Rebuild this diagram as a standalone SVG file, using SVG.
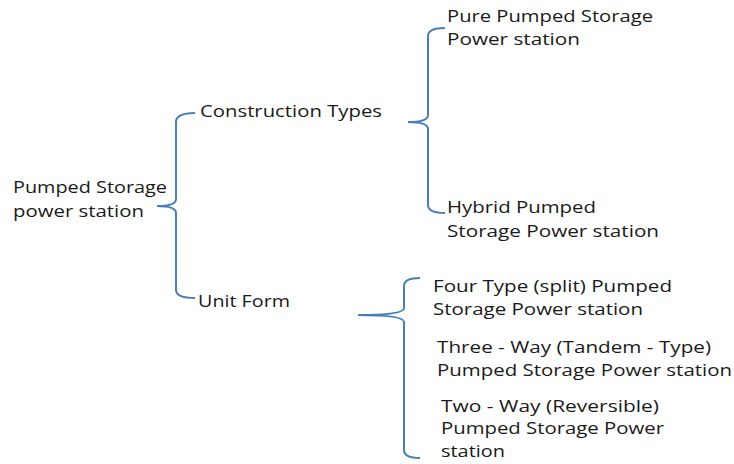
<svg xmlns="http://www.w3.org/2000/svg" width="734" height="464" viewBox="0 0 734 464">
<style>
text{font-family:"Open Sans","Liberation Sans",Arial,sans-serif;font-size:17px;fill:#1a1a1a}
.b{fill:none;stroke:#4a7ebb;stroke-width:2}
</style>
<rect width="734" height="464" fill="#fff"/>
<g id="connectors">
<path class="b" d="M195,113 Q176,113 176,122 L176,199 Q176,206 157,206 Q176,206 176,213 L176,290 Q176,298 195,298"/>
<path class="b" d="M445,28 Q428,28 428,36 L428,115 Q428,122 408,122 Q428,122 428,129 L428,205 Q428,213 445,213"/>
<path class="b" d="M420,278 Q404,278 404,286 L404,308 Q404,315 358,315 Q404,315 404,322 L404,450 Q404,458 420,458"/>
</g>
<g id="root">
<text x="13" y="193" textLength="154" lengthAdjust="spacingAndGlyphs">Pumped Storage</text>
<text x="13" y="217" textLength="131" lengthAdjust="spacingAndGlyphs">power station</text>
</g>
<g id="construction">
<text x="200" y="117" textLength="182" lengthAdjust="spacingAndGlyphs">Construction Types</text>
</g>
<g id="unitform">
<text x="198" y="307" textLength="92" lengthAdjust="spacingAndGlyphs">Unit Form</text>
</g>
<g id="pure">
<text x="447" y="22" textLength="206" lengthAdjust="spacingAndGlyphs">Pure Pumped Storage</text>
<text x="447" y="45" textLength="133" lengthAdjust="spacingAndGlyphs">Power station</text>
</g>
<g id="hybrid">
<text x="447" y="213" textLength="149" lengthAdjust="spacingAndGlyphs">Hybrid Pumped</text>
<text x="447" y="237" textLength="212" lengthAdjust="spacingAndGlyphs">Storage Power station</text>
</g>
<g id="four">
<text x="433" y="292" textLength="239" lengthAdjust="spacingAndGlyphs">Four Type (split) Pumped</text>
<text x="433" y="315" textLength="210" lengthAdjust="spacingAndGlyphs">Storage Power station</text>
</g>
<g id="three">
<text x="437" y="353" textLength="274" lengthAdjust="spacingAndGlyphs">Three - Way (Tandem - Type)</text>
<text x="437" y="376" textLength="295" lengthAdjust="spacingAndGlyphs">Pumped Storage Power station</text>
</g>
<g id="two">
<text x="441" y="412" textLength="218" lengthAdjust="spacingAndGlyphs">Two - Way (Reversible)</text>
<text x="441" y="434" textLength="223" lengthAdjust="spacingAndGlyphs">Pumped Storage Power</text>
<text x="441" y="457" textLength="64" lengthAdjust="spacingAndGlyphs">station</text>
</g>
</svg>
